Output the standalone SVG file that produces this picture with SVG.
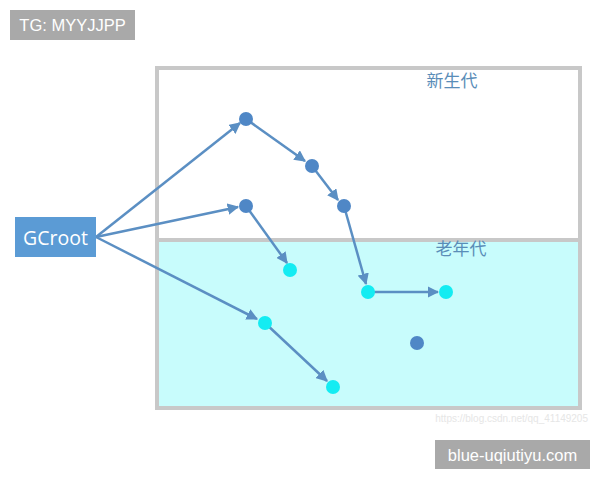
<svg xmlns="http://www.w3.org/2000/svg" width="600" height="480" viewBox="0 0 600 480">
<style>
.tag{fill:#a9a9a9}
.tagt{font-family:"Liberation Sans",Arial,sans-serif;font-size:16.5px;fill:#ffffff}
.gen{font-family:"Noto Sans CJK SC","Noto Sans",sans-serif;font-size:17px;fill:#5a8db8}
.conn{stroke:#5b8fc3;stroke-width:2.5;fill:none;marker-end:url(#ah)}
.blue{fill:#4f87c6}
.cyan{fill:#14ecf2}
</style>
<defs>
<marker id="ah" viewBox="0 0 10 10" refX="9" refY="5" markerWidth="4.6" markerHeight="4.6" orient="auto" markerUnits="strokeWidth">
<path d="M0,0 L10,5 L0,10 z" fill="#5b8fc3"/>
</marker>
</defs>
<rect width="600" height="480" fill="#ffffff"/>
<g id="heap">
<rect x="157" y="241" width="423" height="167" fill="#c8fcfc"/>
<rect x="157" y="68" width="423" height="340" fill="none" stroke="#c8c8c8" stroke-width="4"/>
<line x1="157" y1="240" x2="580" y2="240" stroke="#c8c8c8" stroke-width="4"/>
<text class="gen" x="452" y="87" text-anchor="middle">新生代</text>
<text class="gen" x="461" y="255" text-anchor="middle">老年代</text>
</g>
<g id="tag-top">
<rect class="tag" x="10" y="10" width="125" height="30"/>
<text class="tagt" x="72.5" y="31" text-anchor="middle">TG: MYYJJPP</text>
</g>
<g id="tag-bottom">
<rect class="tag" x="435" y="440" width="155" height="29"/>
<text class="tagt" x="512.5" y="460.5" text-anchor="middle">blue-uqiutiyu.com</text>
</g>
<text x="588" y="422" text-anchor="end" font-family="Liberation Sans,Arial,sans-serif" font-size="10" fill="#e6e6e6">https://blog.csdn.net/qq_41149205</text>
<g id="connectors">
<line class="conn" x1="96" y1="237" x2="240" y2="123"/>
<line class="conn" x1="96" y1="237" x2="238" y2="207"/>
<line class="conn" x1="96" y1="237" x2="257" y2="319"/>
<line class="conn" x1="246" y1="119" x2="305" y2="161"/>
<line class="conn" x1="312" y1="166" x2="338" y2="200"/>
<line class="conn" x1="246" y1="206" x2="287" y2="263"/>
<line class="conn" x1="344" y1="206" x2="366" y2="284"/>
<line class="conn" x1="368" y1="292" x2="438" y2="292"/>
<line class="conn" x1="265" y1="323" x2="327" y2="381"/>
</g>
<g id="gcroot">
<rect x="15" y="217" width="81" height="40" fill="#5b9bd5"/>
<text x="55.5" y="244.5" text-anchor="middle" font-family="'Open Sans','Noto Sans',sans-serif" font-size="19.5" fill="#ffffff">GCroot</text>
</g>
<g id="nA"><circle class="blue" cx="246" cy="119" r="7"/></g>
<g id="nB"><circle class="blue" cx="312" cy="166" r="7"/></g>
<g id="nC"><circle class="blue" cx="344" cy="206" r="7"/></g>
<g id="nD"><circle class="blue" cx="246" cy="206" r="7"/></g>
<g id="nE"><circle class="cyan" cx="290" cy="270" r="7"/></g>
<g id="nF"><circle class="cyan" cx="368" cy="292" r="7"/></g>
<g id="nG"><circle class="cyan" cx="446" cy="292" r="7"/></g>
<g id="nH"><circle class="cyan" cx="265" cy="323" r="7"/></g>
<g id="nI"><circle class="cyan" cx="333" cy="387" r="7"/></g>
<g id="nJ"><circle class="blue" cx="417" cy="343" r="7"/></g>
</svg>
